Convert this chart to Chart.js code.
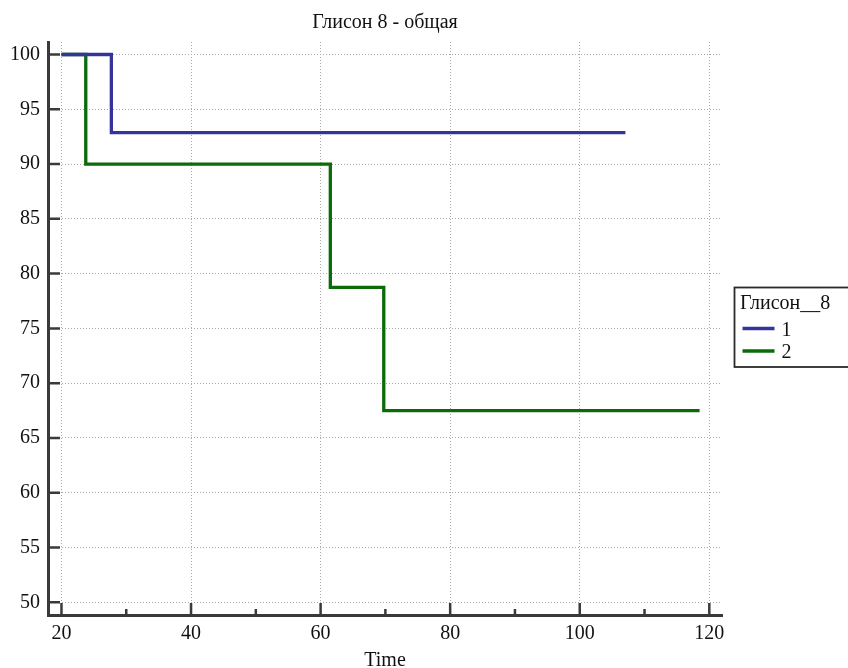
<!DOCTYPE html>
<html>
<head>
<meta charset="utf-8">
<script src="https://cdn.jsdelivr.net/npm/chart.js@4/dist/chart.umd.min.js"></script>
<style>
html,body{margin:0;padding:0;background:#fff;}
#wrap{width:848px;height:668px;}
</style>
</head>
<body>
<div id="wrap"><canvas id="c" width="848" height="668"></canvas></div>
<script>
const chartTitle = "Глисон 8 - общая";
const xTitle = "Time";
const legendTitle = "Глисон__8";
const seriesNames = ["1", "2"];
const series1Time = [20, 27.7, 107.05];
const series1Surv = [100, 92.86, 92.86];
const series2Time = [20, 23.75, 61.5, 69.75, 118.5];
const series2Surv = [100, 90, 78.75, 67.5, 67.5];
const xTickValues = [20, 40, 60, 80, 100, 120];
const xMinorTickValues = [30, 50, 70, 90, 110];
const yTickValues = [50, 55, 60, 65, 70, 75, 80, 85, 90, 95, 100];

const SERIF = "'Liberation Serif', 'DejaVu Serif', serif";
const colors = ["#34349a", "#0b6b0b"];

function pts(xs, ys){ return xs.map((x,i)=>({x:x, y:ys[i]})); }

const insideTicks = {
  id: 'insideTicks',
  afterDatasetsDraw(chart){
    const ctx = chart.ctx, xs = chart.scales.x, ys = chart.scales.y, a = chart.chartArea;
    ctx.save();
    ctx.strokeStyle = '#3a3a3a';
    ctx.lineWidth = 2.5;
    ctx.beginPath();
    yTickValues.forEach(v=>{ const p = ys.getPixelForValue(v); ctx.moveTo(a.left, p); ctx.lineTo(a.left+12, p); });
    xTickValues.forEach(v=>{ const p = xs.getPixelForValue(v); ctx.moveTo(p, a.bottom); ctx.lineTo(p, a.bottom-12); });
    xMinorTickValues.forEach(v=>{ const p = xs.getPixelForValue(v); ctx.moveTo(p, a.bottom); ctx.lineTo(p, a.bottom-6); });
    ctx.stroke();
    ctx.restore();
  }
};

const boxLegend = {
  id: 'boxLegend',
  afterDraw(chart){
    const ctx = chart.ctx, a = chart.chartArea;
    const left = a.right + 12.5, top = 287.5;
    ctx.save();
    ctx.strokeStyle = '#2a2a2a';
    ctx.lineWidth = 1.8;
    ctx.strokeRect(left, top, 140, 79.5);
    ctx.font = "20px " + SERIF;
    ctx.fillStyle = '#111';
    ctx.textBaseline = 'alphabetic';
    ctx.textAlign = 'left';
    ctx.fillText(legendTitle, left + 5.5, top + 21);
    chart.data.datasets.forEach((ds, i)=>{
      const y = top + 41 + i*22.5;
      ctx.strokeStyle = ds.borderColor;
      ctx.lineWidth = 3.3;
      ctx.beginPath(); ctx.moveTo(left + 8, y); ctx.lineTo(left + 40, y); ctx.stroke();
      ctx.fillStyle = '#111';
      ctx.fillText(ds.label, left + 47, y + 7);
    });
    ctx.restore();
  }
};

new Chart(document.getElementById('c'), {
  type: 'line',
  data: {
    datasets: [
      { label: seriesNames[0], data: pts(series1Time, series1Surv), borderColor: colors[0], backgroundColor: colors[0], borderWidth: 3.3, stepped: true, pointRadius: 0, fill: false, borderJoinStyle: 'miter', borderCapStyle: 'butt' },
      { label: seriesNames[1], data: pts(series2Time, series2Surv), borderColor: colors[1], backgroundColor: colors[1], borderWidth: 3.3, stepped: true, pointRadius: 0, fill: false, borderJoinStyle: 'miter', borderCapStyle: 'butt' }
    ]
  },
  options: {
    responsive: false,
    animation: false,
    devicePixelRatio: 1,
    layout: { padding: { left: 2, right: 126, top: 0, bottom: -1 } },
    plugins: {
      legend: { display: false },
      tooltip: { enabled: false },
      title: { display: true, text: chartTitle, fullSize: false, color: '#111', font: { family: SERIF, size: 20, weight: 'normal', lineHeight: 1.2 }, padding: { top: 11, bottom: 7 } }
    },
    scales: {
      x: {
        type: 'linear', min: 17.92, max: 121.96,
        afterBuildTicks: s => { s.ticks = xTickValues.map(v=>({value:v})); },
        grid: { color: '#a8a8a8', lineWidth: 1, drawTicks: false },
        border: { display: true, color: '#3a3a3a', width: 3, dash: [1,2] },
        ticks: { color: '#111', font: { family: SERIF, size: 20, lineHeight: 0.9 }, padding: 10, maxRotation: 0 },
        title: { display: true, text: xTitle, color: '#111', font: { family: SERIF, size: 20, lineHeight: 0.8 }, padding: { top: 0, bottom: 0 } }
      },
      y: {
        type: 'linear', min: 48.84, max: 101.14,
        afterBuildTicks: s => { s.ticks = yTickValues.map(v=>({value:v})); },
        grid: { color: '#a8a8a8', lineWidth: 1, drawTicks: false },
        border: { display: true, color: '#3a3a3a', width: 3, dash: [1,2] },
        ticks: { color: '#111', font: { family: SERIF, size: 20 }, padding: 8 }
      }
    }
  },
  plugins: [insideTicks, boxLegend]
});
</script>
</body>
</html>
